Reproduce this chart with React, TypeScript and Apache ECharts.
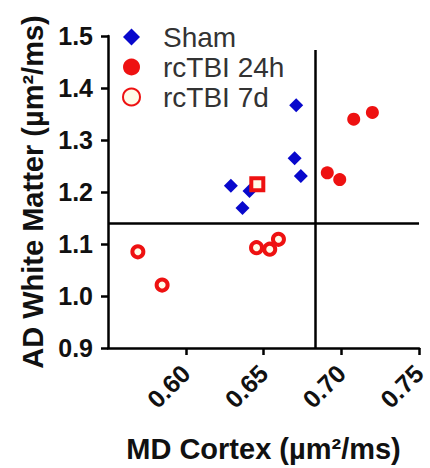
import React, { useEffect, useRef } from "react";
import * as echarts from "echarts";

const xTicks = [0.6, 0.65, 0.7, 0.75];
const yTicks = [0.9, 1.0, 1.1, 1.2, 1.3, 1.4, 1.5];
const shamData: number[][] = [
  [0.671, 1.367],
  [0.67, 1.265],
  [0.674, 1.231],
  [0.629, 1.212],
  [0.641, 1.202],
  [0.6365, 1.169],
];
const tbi24Data: number[][] = [
  [0.708, 1.34],
  [0.72, 1.353],
  [0.691, 1.237],
  [0.699, 1.224],
];
const tbi7Data: number[][] = [
  [0.5692, 1.085],
  [0.5848, 1.021],
  [0.6455, 1.093],
  [0.654, 1.09],
  [0.6596, 1.109],
];
const tbi7Square: number[] = [0.646, 1.215];
const hThreshold = 1.142;
const vThreshold = 0.683;
const vThresholdTop = 1.473;

const FONT = "'Liberation Sans', Arial, sans-serif";
const BLUE = "#0808cc";
const RED = "#ee1111";

export default function App() {
  const ref = useRef<HTMLDivElement>(null);
  useEffect(() => {
    if (!ref.current) return;
    const chart = echarts.init(ref.current, undefined, { renderer: "svg" });
    chart.setOption({
      animation: false,
      backgroundColor: "#ffffff",
      textStyle: { fontFamily: FONT },
      grid: { left: 108, right: 9, top: 36, bottom: 120 },
      legend: {
        orient: "vertical",
        left: 117,
        top: 17,
        itemWidth: 17,
        itemHeight: 17,
        itemGap: 0,
        textStyle: {
          fontFamily: FONT,
          fontSize: 28,
          lineHeight: 30,
          color: "#333",
          padding: [0, 0, 0, 18],
        },
        data: ["Sham", "rcTBI 24h", "rcTBI 7d"],
      },
      xAxis: {
        type: "value",
        min: 0.55,
        max: 0.75,
        interval: 0.05,
        name: "MD Cortex (µm²/ms)",
        nameLocation: "middle",
        nameGap: 86,
        nameTextStyle: { fontFamily: FONT, fontSize: 29, fontWeight: "bold", color: "#111" },
        splitLine: { show: false },
        axisLine: { show: true, lineStyle: { color: "#000", width: 2.5 } },
        axisTick: {
          show: true,
          length: 7,
          lineStyle: { color: "#000", width: 2.5 },
          customValues: xTicks,
        },
        axisLabel: {
          rotate: 45,
          fontFamily: FONT,
          fontSize: 25,
          fontWeight: "bold",
          color: "#111",
          margin: 21,
          customValues: xTicks,
          formatter: (v: number) => v.toFixed(2),
        },
      },
      yAxis: {
        type: "value",
        min: 0.9,
        max: 1.5,
        interval: 0.1,
        name: "AD White Matter (µm²/ms)",
        nameLocation: "middle",
        nameGap: 60,
        nameTextStyle: { fontFamily: FONT, fontSize: 29, fontWeight: "bold", color: "#111" },
        splitLine: { show: false },
        axisLine: { show: true, lineStyle: { color: "#000", width: 2.5 } },
        axisTick: {
          show: true,
          length: 7,
          lineStyle: { color: "#000", width: 2.5 },
          customValues: yTicks,
        },
        axisLabel: {
          fontFamily: FONT,
          fontSize: 25,
          fontWeight: "bold",
          color: "#111",
          margin: 15,
          customValues: yTicks,
          formatter: (v: number) => v.toFixed(1),
        },
      },
      series: [
        {
          name: "Sham",
          type: "scatter",
          symbol: "diamond",
          symbolSize: 14,
          itemStyle: { color: BLUE, opacity: 1 },
          data: shamData,
          markLine: {
            silent: true,
            symbol: "none",
            label: { show: false },
            lineStyle: { color: "#000", width: 2.5, type: "solid" },
            data: [
              { yAxis: hThreshold },
              [
                { coord: [vThreshold, 0.9] },
                { coord: [vThreshold, vThresholdTop] },
              ],
            ],
          },
          z: 3,
        },
        {
          name: "rcTBI 24h",
          type: "scatter",
          symbol: "circle",
          symbolSize: 13,
          itemStyle: { color: RED, opacity: 1 },
          data: tbi24Data,
          z: 3,
        },
        {
          name: "rcTBI 7d",
          type: "scatter",
          symbol: "circle",
          symbolSize: 11,
          itemStyle: { color: "#fffbe8", borderColor: RED, borderWidth: 4, opacity: 1 },
          data: [
            ...tbi7Data,
            { value: tbi7Square, symbol: "rect", symbolSize: 12 },
          ],
          z: 4,
        },
      ],
    });
    return () => chart.dispose();
  }, []);
  return (
    <div
      ref={ref}
      style={{ position: "fixed", left: 0, top: 0, width: 430, height: 468 }}
    />
  );
}
